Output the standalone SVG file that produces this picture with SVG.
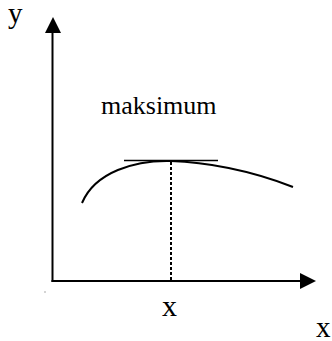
<svg xmlns="http://www.w3.org/2000/svg" width="332" height="341" viewBox="0 0 332 341">
<style>
.ln{stroke:#000;fill:none}
.t{font-family:'Liberation Serif','Times New Roman',serif;fill:#000}
</style>
<rect width="332" height="341" fill="#fff"/>
<g id="connectors">
<line class="ln" x1="52.5" y1="282" x2="52.5" y2="32" stroke-width="2"/>
<polygon points="45,33 61,33 53,17" fill="#000"/>
<line class="ln" x1="51.5" y1="281" x2="302" y2="281" stroke-width="2"/>
<polygon points="300,273 300,289 316,281" fill="#000"/>
<line class="ln" x1="171" y1="162" x2="171" y2="281" stroke-width="2" stroke-dasharray="3,2"/>
<line class="ln" x1="124" y1="160.5" x2="218" y2="160.5" stroke-width="1.6"/>
<path class="ln" d="M82,203 C95,172 135,160 171,161 C205,162 250,170 293,187" stroke-width="2"/>
<rect x="44.5" y="291.5" width="1" height="1" fill="#555"/>
</g>
<g id="label-y"><text class="t" x="8" y="23" font-size="29">y</text></g>
<g id="label-maksimum"><text class="t" x="101" y="114" font-size="26">maksimum</text></g>
<g id="label-x-mid"><text class="t" x="162" y="316" font-size="30">x</text></g>
<g id="label-x-right"><text class="t" x="316" y="337" font-size="29">x</text></g>
</svg>
